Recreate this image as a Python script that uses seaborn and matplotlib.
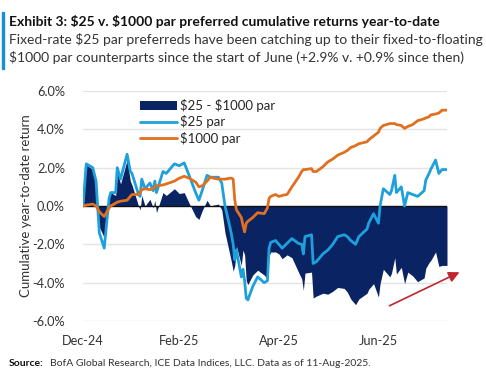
import pandas as pd
import matplotlib.pyplot as plt
from matplotlib.patches import Rectangle, Patch
from matplotlib.lines import Line2D
from matplotlib.ticker import FuncFormatter
import seaborn as sns

# values (cumulative YTD return, %)
dates = [
    "2024-12-31", "2025-01-02", "2025-01-06", "2025-01-08", "2025-01-10", "2025-01-13",
    "2025-01-16", "2025-01-17", "2025-01-20", "2025-01-21", "2025-01-23", "2025-01-27",
    "2025-01-29", "2025-01-30", "2025-02-03", "2025-02-04", "2025-02-05", "2025-02-07",
    "2025-02-10", "2025-02-12", "2025-02-13", "2025-02-14", "2025-02-18", "2025-02-20",
    "2025-02-25", "2025-02-28", "2025-03-03", "2025-03-06", "2025-03-10", "2025-03-12",
    "2025-03-14", "2025-03-17", "2025-03-19", "2025-03-21", "2025-03-24", "2025-03-26",
    "2025-03-28", "2025-03-31", "2025-04-01", "2025-04-02", "2025-04-03", "2025-04-04",
    "2025-04-07", "2025-04-08", "2025-04-09", "2025-04-10", "2025-04-11", "2025-04-14",
    "2025-04-17", "2025-04-21", "2025-04-23", "2025-04-24", "2025-04-25", "2025-04-28",
    "2025-04-30", "2025-05-02", "2025-05-05", "2025-05-08", "2025-05-12", "2025-05-14",
    "2025-05-15", "2025-05-16", "2025-05-20", "2025-05-21", "2025-05-23", "2025-05-27",
    "2025-05-30", "2025-06-02", "2025-06-05", "2025-06-09", "2025-06-11", "2025-06-13",
    "2025-06-16", "2025-06-18", "2025-06-23", "2025-06-24", "2025-06-27", "2025-06-30",
    "2025-07-01", "2025-07-03", "2025-07-07", "2025-07-08", "2025-07-10", "2025-07-11",
    "2025-07-14", "2025-07-16", "2025-07-18", "2025-07-21", "2025-07-24", "2025-07-28",
    "2025-07-29", "2025-07-31", "2025-08-01", "2025-08-04", "2025-08-06", "2025-08-08",
    "2025-08-11",
]
par25 = [
    0.0, 2.2, 2.0, 1.3, -1.4, -2.2,
    0.4, 0.7, 0.7, 2.0, 1.4, 2.7,
    1.8, 1.7, 0.6, 0.5, 1.4, 0.9,
    1.2, 0.8, 1.3, 0.7, 1.8, 1.7,
    2.2, 2.1, 2.25, 1.6, 0.7, 0.3,
    0.8, 1.6, 1.5, 1.5, 1.5, 1.2,
    0.0, -1.1, -1.5, -2.0, -2.8, -2.3,
    -3.7, -3.3, -3.9, -4.8, -4.9, -4.2,
    -3.7, -4.0, -3.9, -2.2, -1.9, -1.8,
    -2.0, -2.2, -1.95, -1.7, -1.95, -2.0,
    -2.5, -1.6, -1.5, -3.0, -2.9, -2.5,
    -2.3, -2.0, -1.6, -1.5, -1.6, -1.8,
    -2.0, -1.6, -1.2, -0.9, -0.4, -0.9,
    0.0, 0.9, 0.6, 0.8, 1.6, 0.7,
    1.0, 0.0, 0.7, 0.6, 0.5, 0.8,
    1.35, 1.7, 1.9, 2.4, 1.7, 1.9,
    1.9,
]
par1000 = [
    0.0, 0.05, 0.1, 0.0, -0.3, -0.55,
    -0.1, 0.0, 0.15, 0.2, 0.25, 0.3,
    0.5, 0.6, 0.6, 0.7, 0.85, 0.9,
    0.85, 0.9, 1.0, 1.05, 1.1, 1.15,
    1.3, 1.45, 1.55, 1.45, 1.25, 1.0,
    1.05, 1.3, 1.5, 1.45, 1.4, 1.4,
    1.4, 1.45, 1.45, 1.4, 0.3, -0.2,
    -0.6, -1.0, -1.35, -0.9, -0.8, -0.6,
    -0.35, -0.4, -0.1, 0.4, 0.5, 0.6,
    0.5, 0.55, 0.6, 1.0, 1.5, 1.8,
    1.9, 1.9, 1.95, 1.8, 1.8, 2.05,
    2.3, 2.45, 2.65, 2.8, 2.9, 3.05,
    3.15, 3.25, 3.35, 3.45, 3.65, 3.85,
    4.05, 4.2, 4.3, 4.3, 4.3, 4.25,
    4.2, 4.05, 4.15, 4.25, 4.45, 4.55,
    4.6, 4.65, 4.75, 4.8, 4.85, 5.0,
    5.0,
]
tick_dates = ["2024-12-31", "2025-02-28", "2025-04-30", "2025-06-30"]
tick_labels = ["Dec-24", "Feb-25", "Apr-25", "Jun-25"]
legend_labels = [r"\$25 - \$1000 par", r"\$25 par", r"\$1000 par"]

NAVY = "#0a2463"
LIGHT_BLUE = "#1ea0dc"
ORANGE = "#e07020"

df = pd.DataFrame({"date": pd.to_datetime(dates), "p25": par25, "p1000": par1000})
df["diff"] = df["p25"] - df["p1000"]

sns.set_style("white")
plt.rcParams["font.family"] = ["Lato", "DejaVu Sans"]

fig = plt.figure(figsize=(4.86, 3.74), dpi=100)
ax = fig.add_axes([83 / 486, 1 - 321 / 374, 364 / 486, 230 / 374])

for v in [-6, -4, -2, 2, 4, 6]:
    ax.axhline(v, color="#e4e4e4", lw=1, zorder=0)

ax.fill_between(df["date"], df["diff"], 0, color=NAVY, lw=0, zorder=1)
ax.axhline(0, color="#111111", lw=1, zorder=2)
sns.lineplot(data=df, x="date", y="p25", color=LIGHT_BLUE, lw=2, ax=ax, zorder=3)
sns.lineplot(data=df, x="date", y="p1000", color=ORANGE, lw=2, ax=ax, zorder=4)

ax.set_ylim(-6, 6)
ax.set_xlim(df["date"].iloc[0], df["date"].iloc[-1])
ax.set_yticks([-6, -4, -2, 0, 2, 4, 6])
ax.yaxis.set_major_formatter(FuncFormatter(lambda v, _: f"{v:.1f}%"))
ax.set_xticks(pd.to_datetime(tick_dates))
ax.set_xticklabels(tick_labels)
ax.tick_params(axis="both", length=0, labelsize=9.2, colors="#333333")
ax.tick_params(axis="y", pad=13)
ax.tick_params(axis="x", pad=10)
ax.set_xlabel("")
ax.set_ylabel("Cumulative year-to-date return", fontsize=9.5, color="#333333", labelpad=0)
for s in ax.spines.values():
    s.set_visible(False)

handles = [
    Patch(facecolor=NAVY, edgecolor="none"),
    Line2D([], [], color=LIGHT_BLUE, lw=2),
    Line2D([], [], color=ORANGE, lw=2),
]
ax.legend(handles, legend_labels, loc="upper left",
          bbox_to_anchor=(0.135, 1.0), frameon=False, fontsize=9.5, handlelength=2.8,
          handletextpad=0.2, labelspacing=0.25, borderaxespad=0.2)

ax.annotate("", xy=(462 / 486, 1 - 271 / 374), xytext=(387 / 486, 1 - 307 / 374),
            xycoords="figure fraction", textcoords="figure fraction",
            arrowprops=dict(arrowstyle="-|>", color="#c0262d", lw=1.2, mutation_scale=16),
            annotation_clip=False)

# header
fig.patches.append(Rectangle((2 / 486, 1 - 69 / 374), 2 / 486, 57 / 374,
                             transform=fig.transFigure, color="#1a8fd6"))
fig.text(9 / 486, 1 - 21 / 374, r"Exhibit 3: \$25 v. \$1000 par preferred cumulative returns year-to-date",
         fontsize=10, fontweight="bold", color="#111111", va="center")
fig.text(9 / 486, 1 - 40 / 374, r"Fixed-rate \$25 par preferreds have been catching up to their fixed-to-floating",
         fontsize=10, color="#333333", va="center")
fig.text(9 / 486, 1 - 58 / 374, r"\$1000 par counterparts since the start of June (+2.9% v. +0.9% since then)",
         fontsize=10, color="#333333", va="center")

fig.text(9 / 486, 1 - 364 / 374, "Source:", fontsize=7.5, fontweight="bold", color="#111111", va="center")
fig.text(50 / 486, 1 - 364 / 374, "BofA Global Research, ICE Data Indices, LLC. Data as of 11-Aug-2025.",
         fontsize=7.5, color="#333333", va="center")

fig.savefig("out.png", dpi=100, facecolor="white")
